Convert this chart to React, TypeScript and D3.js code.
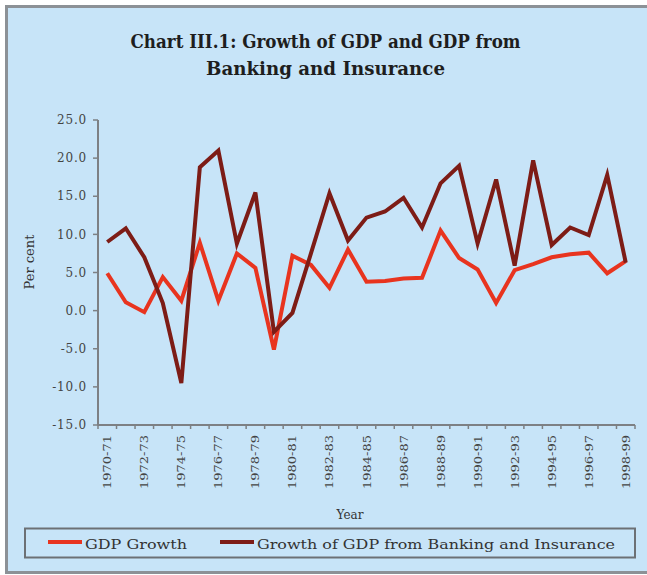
import React from "react";
import * as d3 from "d3";

const years = [
  "1970-71", "1971-72", "1972-73", "1973-74", "1974-75", "1975-76", "1976-77", "1977-78",
  "1978-79", "1979-80", "1980-81", "1981-82", "1982-83", "1983-84", "1984-85", "1985-86",
  "1986-87", "1987-88", "1988-89", "1989-90", "1990-91", "1991-92", "1992-93", "1993-94",
  "1994-95", "1995-96", "1996-97", "1997-98", "1998-99",
];
const gdpGrowth = [
  4.9, 1.1, -0.2, 4.4, 1.3, 8.9, 1.3, 7.5, 5.6, -5.1, 7.2, 6.0, 3.0, 8.0, 3.8, 3.9,
  4.2, 4.3, 10.5, 6.9, 5.4, 1.0, 5.3, 6.1, 7.0, 7.4, 7.6, 4.9, 6.5,
];
const bankingGrowth = [
  9.0, 10.8, 7.0, 1.0, -9.5, 18.8, 21.0, 8.8, 15.5, -2.8, -0.3, 7.5, 15.4, 9.2, 12.2, 13.0,
  14.8, 10.9, 16.7, 19.0, 8.8, 17.2, 5.9, 19.7, 8.6, 10.9, 9.9, 17.8, 6.3,
];
const yTicks = [-15, -10, -5, 0, 5, 10, 15, 20, 25];
const titleLines = ["Chart III.1: Growth of GDP and GDP from", "Banking and Insurance"];
const legendLabels = ["GDP Growth", "Growth of GDP from Banking and Insurance"];

const W = 647;
const H = 575;
const plot = { left: 98, right: 635, top: 120, bottom: 425 };
const RED = "#e8341f";
const DARK = "#7d1c16";
const BG = "#c7e4f8";
const AXIS = "#7d8084";
const FONT = "'DejaVu Serif', 'Liberation Serif', serif";

export default function App() {
  const x = d3.scaleBand<string>().domain(years).range([plot.left, plot.right]).padding(0);
  const y = d3.scaleLinear().domain([-15, 25]).range([plot.bottom, plot.top]);
  const cx = (d: string) => (x(d) ?? 0) + x.bandwidth() / 2;

  const line = d3
    .line<number>()
    .x((_, i) => cx(years[i]))
    .y((v) => y(v));

  const boundaries = years.map((d) => x(d) ?? 0).concat([plot.right]);

  return (
    <svg
      width={W}
      height={H}
      style={{ position: "absolute", left: 0, top: 0, background: "#fff" }}
    >
      <rect x={6.5} y={6.5} width={W + 10} height={H - 9} fill={BG} stroke="#8c9196" strokeWidth={3} />

      {titleLines.map((t, i) => (
        <text
          key={t}
          x={W / 2 + 2}
          y={48 + i * 27}
          textAnchor="middle"
          fontFamily={FONT}
          fontWeight="bold"
          fontSize={18}
          fill="#1e1e1e"
          textLength={i === 0 ? 390 : 239}
          lengthAdjust="spacingAndGlyphs"
        >
          {t}
        </text>
      ))}

      {/* y axis */}
      <line x1={plot.left} x2={plot.left} y1={plot.top} y2={plot.bottom} stroke={AXIS} strokeWidth={2} />
      {yTicks.map((t) => (
        <g key={t}>
          <line x1={plot.left - 5} x2={plot.left} y1={y(t)} y2={y(t)} stroke={AXIS} strokeWidth={1.5} />
          <text
            x={plot.left - 11}
            y={y(t)}
            dy="0.35em"
            textAnchor="end"
            fontFamily={FONT}
            fontSize={12}
            fill="#444"
            letterSpacing={0.8}
          >
            {d3.format(".1f")(t).replace("−", "-")}
          </text>
        </g>
      ))}
      <text
        transform={`translate(34,262) rotate(-90)`}
        textAnchor="middle"
        fontFamily={FONT}
        fontSize={13}
        fill="#333"
      >
        Per cent
      </text>

      {/* x axis */}
      <line x1={plot.left} x2={plot.right} y1={plot.bottom} y2={plot.bottom} stroke={AXIS} strokeWidth={2} />
      {boundaries.map((b, i) => (
        <line key={i} x1={b} x2={b} y1={plot.bottom} y2={plot.bottom + 4} stroke={AXIS} strokeWidth={1.5} />
      ))}
      {years.map((d, i) =>
        i % 2 === 0 ? (
          <text
            key={d}
            transform={`translate(${cx(d) + 4},${plot.bottom + 10}) rotate(-90)`}
            textAnchor="end"
            fontFamily={FONT}
            fontSize={11}
            fill="#444"
            textLength={54}
            lengthAdjust="spacingAndGlyphs"
          >
            {d}
          </text>
        ) : null
      )}
      <text x={350} y={519} textAnchor="middle" fontFamily={FONT} fontSize={12} fill="#333">
        Year
      </text>

      {/* lines */}
      <path d={line(gdpGrowth) ?? ""} fill="none" stroke={RED} strokeWidth={4} strokeLinejoin="miter" />
      <path d={line(bankingGrowth) ?? ""} fill="none" stroke={DARK} strokeWidth={4} strokeLinejoin="miter" />

      {/* legend */}
      <rect x={25} y={528.5} width={610} height={29} fill="none" stroke="#6c7075" strokeWidth={2} />
      <line x1={48} x2={82} y1={542} y2={542} stroke={RED} strokeWidth={4} />
      <text x={85} y={549} fontFamily={FONT} fontSize={12.5} fill="#333" textLength={102} lengthAdjust="spacingAndGlyphs">
        {legendLabels[0]}
      </text>
      <line x1={220} x2={254} y1={542} y2={542} stroke={DARK} strokeWidth={4} />
      <text x={257} y={549} fontFamily={FONT} fontSize={12.5} fill="#333" textLength={358} lengthAdjust="spacingAndGlyphs">
        {legendLabels[1]}
      </text>
    </svg>
  );
}
